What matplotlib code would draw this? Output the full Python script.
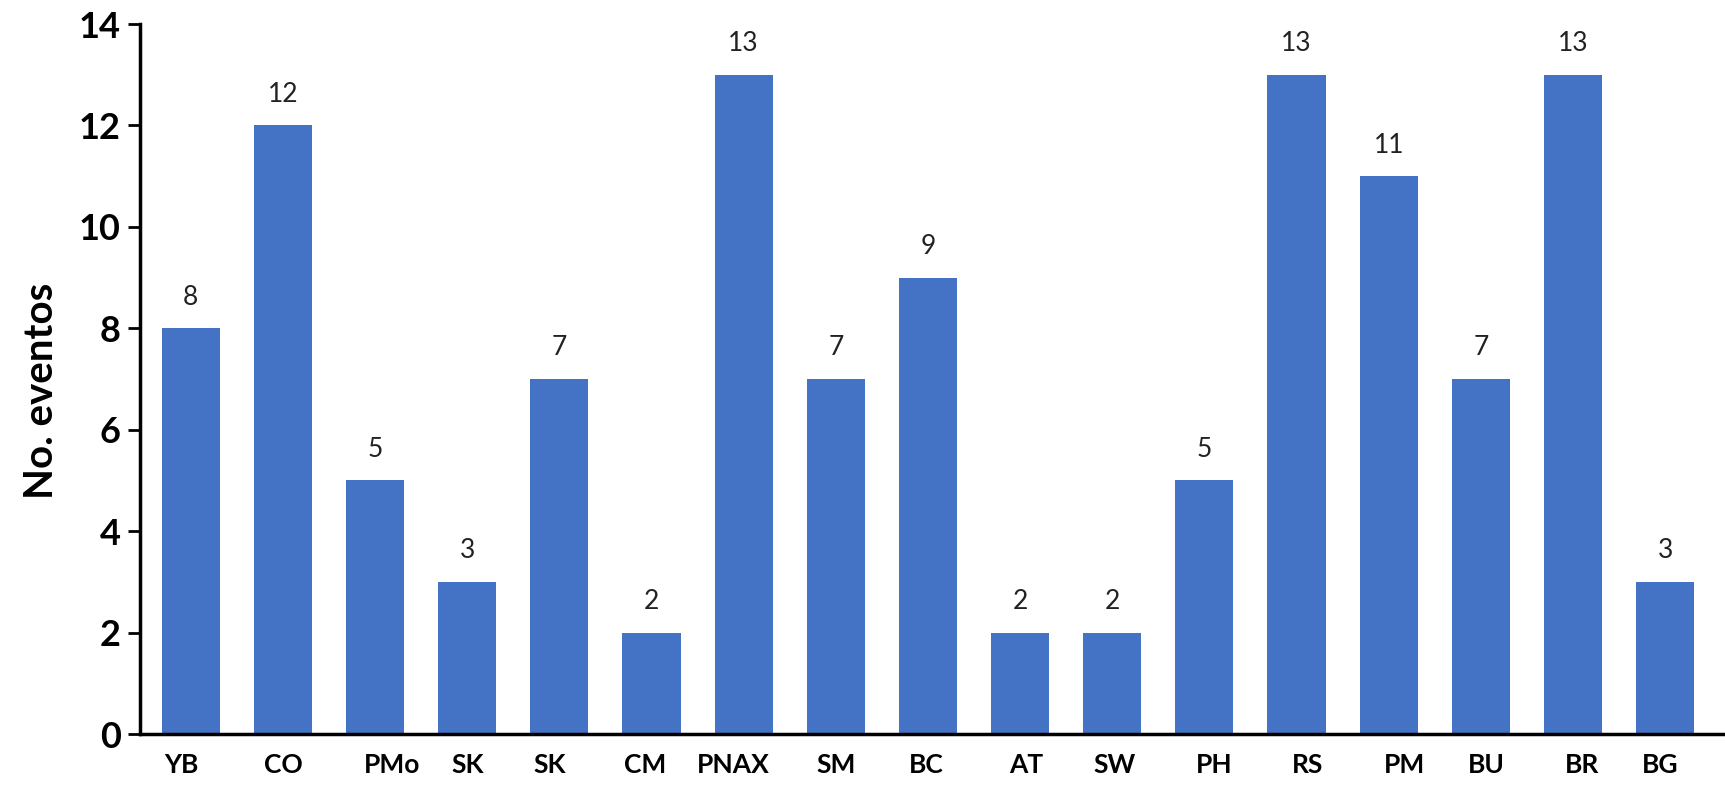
import matplotlib
matplotlib.use("Agg")
import matplotlib.pyplot as plt
import numpy as np

# Events per site
sites = ["YB", "CO", "PMo", "SK", "SK", "CM", "PNAX", "SM", "BC",
         "AT", "SW", "PH", "RS", "PM", "BU", "BR", "BG"]
events = [8, 12, 5, 3, 7, 2, 13, 7, 9, 2, 2, 5, 13, 11, 7, 13, 3]
y_ticks = [0, 2, 4, 6, 8, 10, 12, 14]
y_label = "No. eventos"

# small horizontal nudges of the category labels (in bar slots)
label_nudge = [-0.10, 0.0, 0.18, 0.0, -0.10, -0.07, -0.11, 0.0, -0.02,
               0.07, 0.02, 0.11, 0.12, 0.17, 0.06, 0.10, -0.05]

BAR_COLOR = "#4472C4"
FONT = ["Lato", "DejaVu Sans"]

plt.rcParams["font.family"] = FONT

fig = plt.figure(figsize=(17.25, 8.01), dpi=100)
ax = fig.add_axes([0.0812, 0.0836, 0.9188, 0.8864])

x = np.arange(len(sites))
bars = ax.bar(x, events, width=0.63, color=BAR_COLOR, zorder=2)

for rect, v in zip(bars, events):
    ax.annotate(str(v),
                xy=(rect.get_x() + rect.get_width() / 2, rect.get_height()),
                xytext=(0, 17), textcoords="offset points",
                ha="center", va="baseline", fontsize=19, color="#222222")

ax.set_xlim(-0.55, len(sites) - 0.35)
ax.set_ylim(0, 14)
ax.set_yticks(y_ticks)
ax.set_yticklabels([str(t) for t in y_ticks], fontsize=26, fontweight="bold")
ax.set_xticks(x + np.array(label_nudge))
ax.set_xticklabels(sites, fontsize=19, fontweight="bold")

ax.tick_params(axis="y", direction="out", length=9, width=2, pad=5, colors="black")
ax.tick_params(axis="x", length=0, pad=14)

ax.set_ylabel(y_label, fontsize=29, fontweight="bold")
ax.yaxis.set_label_coords(-0.0505, 0.484)

for side in ("top", "right"):
    ax.spines[side].set_visible(False)
for side in ("left", "bottom"):
    ax.spines[side].set_linewidth(2.5)
    ax.spines[side].set_color("black")
    ax.spines[side].set_zorder(3)

fig.savefig("out.png", dpi=100, facecolor="white")
